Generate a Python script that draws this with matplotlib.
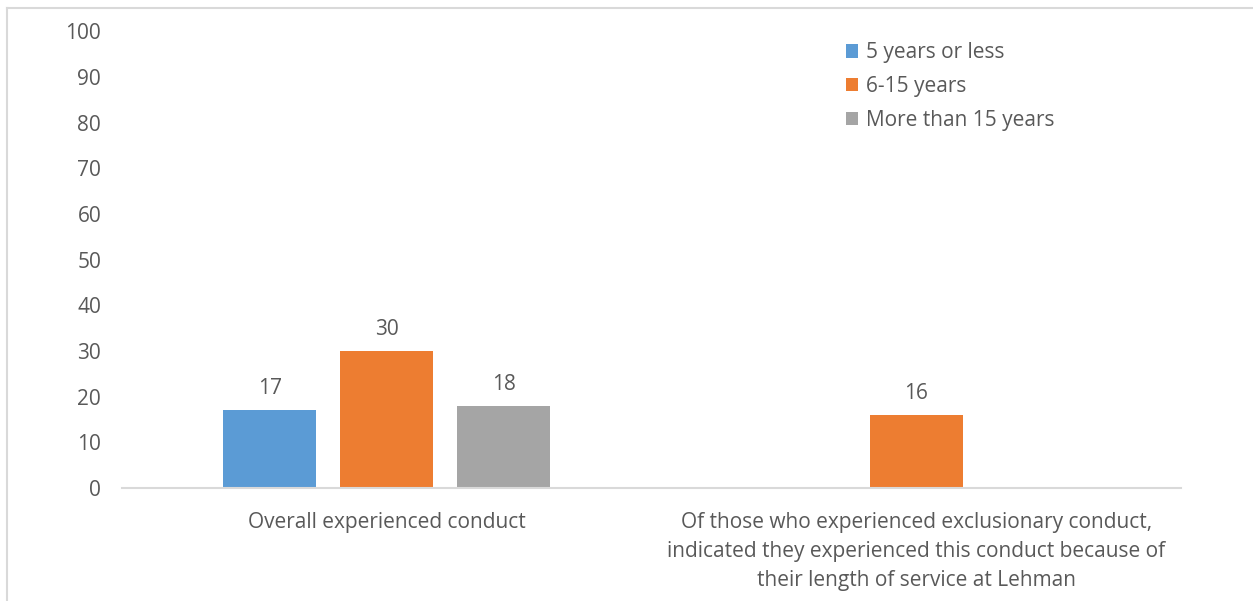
import numpy as np
import matplotlib.pyplot as plt
from matplotlib.lines import Line2D

# %%
categories = ['Overall experienced conduct',
              'Of those who experienced exclusionary conduct,\n'
              'indicated they experienced this conduct because of\n'
              'their length of service at Lehman']
series_names = ['5 years or less', '6-15 years', 'More than 15 years']
less_5 = [17, np.nan]
yrs_6_15 = [30, 16]
more_15 = [18, np.nan]
colors = ['#5B9BD5', '#ED7D31', '#A5A5A5']

# %%
plt.rcParams['font.family'] = ['Open Sans', 'DejaVu Sans']
txt = '#595959'
fs = 15

fig = plt.figure(figsize=(12.53, 6.01), dpi=100)
ax = fig.add_axes([0.0974, 0.188, 0.845, 0.760])

x = np.arange(len(categories))
w = 0.176
step = 0.221
for k, (vals, name, col) in enumerate(zip([less_5, yrs_6_15, more_15], series_names, colors)):
    pos = x + (k - 1) * step
    bars = ax.bar(pos, vals, w, color=col, label=name)
    for xi, v in zip(pos, vals):
        if not np.isnan(v):
            ax.annotate(f'{v:.0f}', (xi, v), xytext=(0, 8), textcoords='offset points',
                        ha='center', va='bottom', fontsize=fs, color=txt)

ax.set_xlim(-0.5, 1.5)
ax.set_ylim(0, 100)
ax.set_yticks(range(0, 101, 10))
ax.set_xticks(x)
ax.set_xticklabels(categories, fontsize=fs, color=txt, linespacing=1.5)
ax.tick_params(axis='y', length=0, pad=15, labelsize=fs, labelcolor=txt)
ax.tick_params(axis='x', length=0, pad=17)
for s in ['left', 'right', 'top']:
    ax.spines[s].set_visible(False)
ax.spines['bottom'].set_color('#D9D9D9')
ax.spines['bottom'].set_linewidth(1.5)

leg = ax.legend(loc='upper left', bbox_to_anchor=(0.666, 1.017), frameon=False,
                fontsize=fs, handlelength=0.6, handleheight=0.6, handletextpad=0.35,
                labelspacing=0.62, labelcolor=txt)

# chart border (left and top edges)
fig.add_artist(Line2D([0.0056, 0.0056], [0, 0.987], color='#D9D9D9', lw=1.5))
fig.add_artist(Line2D([0.0056, 1.0], [0.987, 0.987], color='#D9D9D9', lw=1.5))

plt.savefig('out.png', dpi=100)
